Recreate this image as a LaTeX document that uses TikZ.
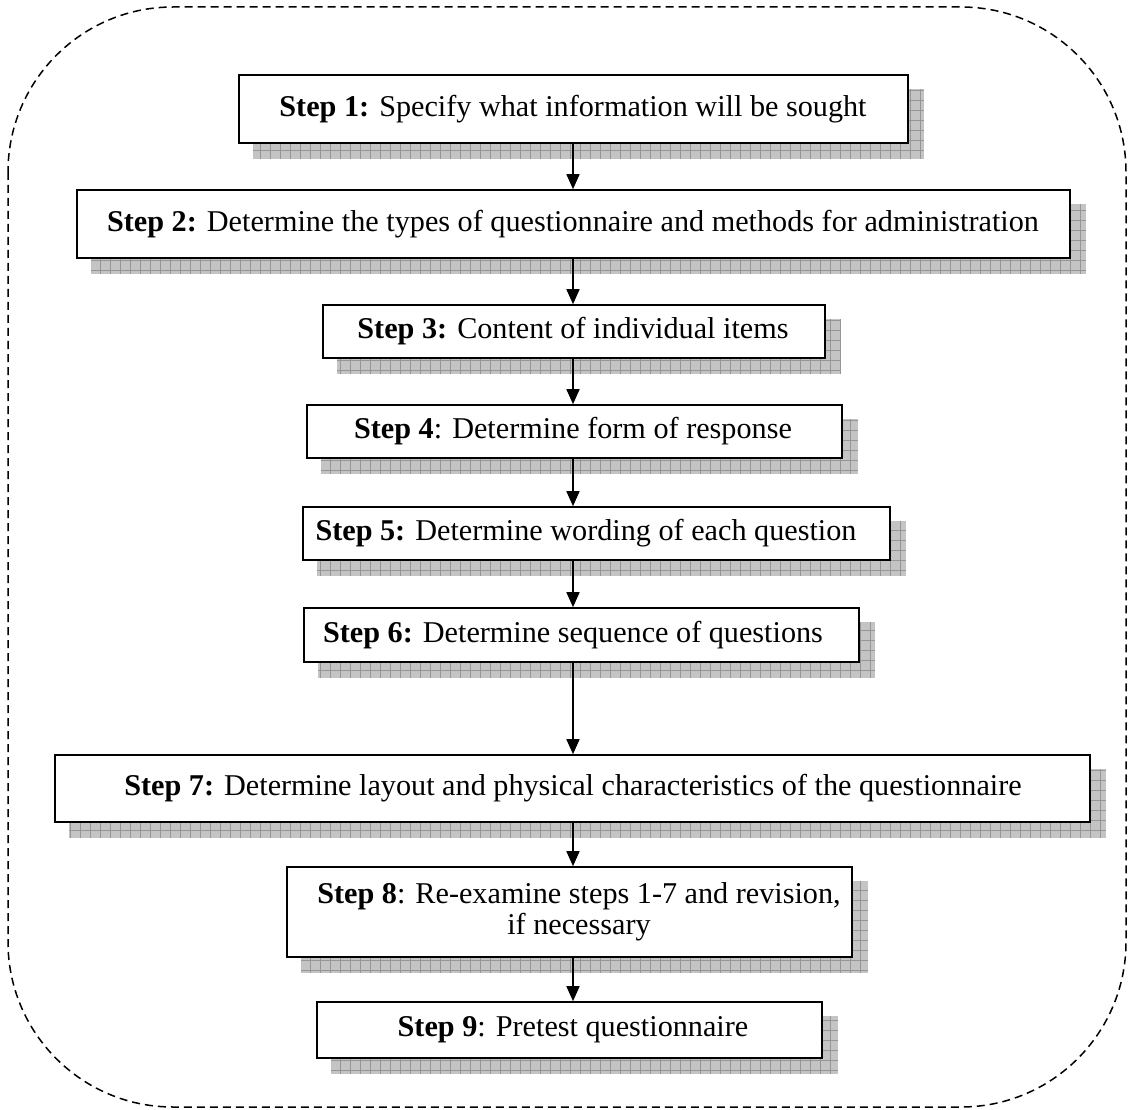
\documentclass[tikz,border=0pt]{standalone}
\usepackage{fontspec}
\setmainfont{Liberation Serif}
\usetikzlibrary{arrows.meta,backgrounds}
\definecolor{shadefill}{RGB}{196,196,196}
\definecolor{shadegrid}{RGB}{150,150,150}
\tikzset{
  stepbox/.style={draw=black,line width=1.6pt,fill=white,inner sep=0pt},
  steptext/.style={inner sep=0pt,align=center,font=\fontsize{30.2}{31}\selectfont},
  arr/.style={line width=1.5pt,-{Triangle[length=15pt,width=13pt]}},
  frame/.style={draw=black,line width=1.5pt,dash pattern=on 8pt off 5pt,rounded corners=165pt},
  shadefillstyle/.style={fill=shadefill},
  shadegridstyle/.style={draw=shadegrid,line width=0.5pt}
}
\newcommand{\boxshade}[1]{%
  \fill[shadefillstyle] ([shift={(15pt,-15pt)}]#1.south west) rectangle ([shift={(15pt,-15pt)}]#1.north east);
  \begin{scope}
    \clip ([shift={(15pt,-15pt)}]#1.south west) rectangle ([shift={(15pt,-15pt)}]#1.north east);
    \draw[shadegridstyle,step=10pt] ([shift={(5pt,-25pt)}]#1.south west) grid ([shift={(25pt,-5pt)}]#1.north east);
  \end{scope}}
\begin{document}
\begin{tikzpicture}[x=1pt,y=1pt]
\useasboundingbox (0,0) rectangle (1128,-1110);
\draw[frame] (8,-7) rectangle (1126,-1107);
\coordinate (spine) at (573,0);
% boxes
\node[stepbox,minimum width=669pt,minimum height=68pt] (s1) at (573.5,-109) {};
\node[stepbox,minimum width=993pt,minimum height=68pt] (s2) at (573.5,-224) {};
\node[stepbox,minimum width=502pt,minimum height=53pt] (s3) at (574,-331.5) {};
\node[stepbox,minimum width=535pt,minimum height=53pt] (s4) at (574.5,-431.5) {};
\node[stepbox,minimum width=587pt,minimum height=53pt] (s5) at (596.5,-533.5) {};
\node[stepbox,minimum width=555pt,minimum height=54pt] (s6) at (581.5,-635) {};
\node[stepbox,minimum width=1035pt,minimum height=67pt] (s7) at (572.5,-788.5) {};
\node[stepbox,minimum width=565pt,minimum height=90pt] (s8) at (569.5,-912) {};
\node[stepbox,minimum width=505pt,minimum height=56pt] (s9) at (569.5,-1030) {};
% texts
\node[steptext] (t1) at (s1.center -| spine) {\textbf{Step 1:} Specify what information will be sought};
\node[steptext] (t2) at (s2.center -| spine) {\textbf{Step 2:} Determine the types of questionnaire and methods for administration};
\node[steptext] (t3) at (s3.center -| spine) {\textbf{Step 3:} Content of individual items};
\node[steptext] (t4) at (s4.center -| spine) {\textbf{Step 4}: Determine form of response};
\node[steptext] (t5) at ([xshift=13pt]s5.center -| spine) {\textbf{Step 5:} Determine wording of each question};
\node[steptext] (t6) at (s6.center -| spine) {\textbf{Step 6:} Determine sequence of questions};
\node[steptext] (t7) at (s7.center -| spine) {\textbf{Step 7:} Determine layout and physical characteristics of the questionnaire};
\node[steptext] (t8) at ([xshift=6pt]s8.center -| spine) {\textbf{Step 8}: Re-examine steps 1-7 and revision,\\ if necessary};
\node[steptext] (t9) at (s9.center -| spine) {\textbf{Step 9}: Pretest questionnaire};
\begin{scope}[on background layer]
  \boxshade{s1}\boxshade{s2}\boxshade{s3}\boxshade{s4}\boxshade{s5}
  \boxshade{s6}\boxshade{s7}\boxshade{s8}\boxshade{s9}
\end{scope}
\draw[arr] (s1.south -| spine) -- (s2.north -| spine);
\draw[arr] (s2.south -| spine) -- (s3.north -| spine);
\draw[arr] (s3.south -| spine) -- (s4.north -| spine);
\draw[arr] (s4.south -| spine) -- (s5.north -| spine);
\draw[arr] (s5.south -| spine) -- (s6.north -| spine);
\draw[arr] (s6.south -| spine) -- (s7.north -| spine);
\draw[arr] (s7.south -| spine) -- (s8.north -| spine);
\draw[arr] (s8.south -| spine) -- (s9.north -| spine);
\end{tikzpicture}
\end{document}
